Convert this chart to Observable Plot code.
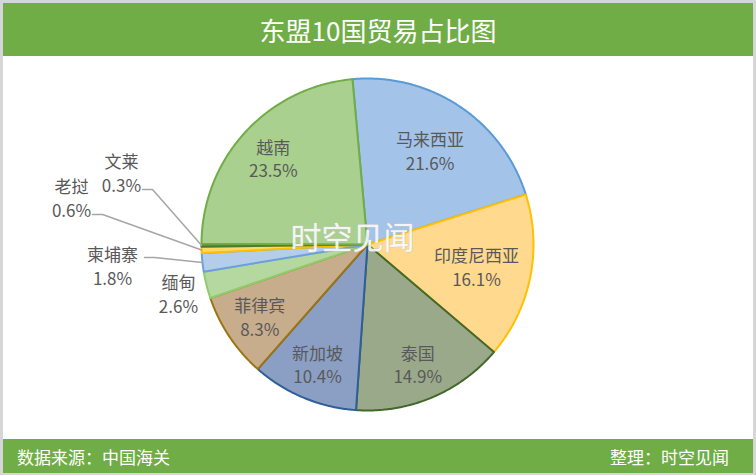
<!DOCTYPE html>
<html>
<head>
<meta charset="utf-8">
<script src="https://cdn.jsdelivr.net/npm/d3@7"></script>
<script src="https://cdn.jsdelivr.net/npm/@observablehq/plot@0.6"></script>
<style>
  html, body { margin: 0; padding: 0; background: #fff; }
  #frame { width: 756px; height: 475px; box-sizing: border-box; background: #d6d6d6; padding: 3px 3px 2px 3px; font-family: "Noto Sans CJK SC", "Noto Sans", sans-serif; }
  #inner { width: 750px; height: 470px; background: #fff; position: relative; }
  #header { height: 53px; background: #70ad47; color: #fff; font-size: 26px; display: flex; align-items: center; justify-content: center; }
  #chart { height: 383px; }
  #chart svg { display: block; }
  #footer { height: 34px; background: #70ad47; color: #fff; font-size: 17px; display: flex; align-items: center; justify-content: space-between; padding: 0 24px 0 14px; box-sizing: border-box; }
</style>
</head>
<body>
<div id="frame"><div id="inner">
  <div id="header">东盟10国贸易占比图</div>
  <div id="chart"></div>
  <div id="footer"><span>数据来源：中国海关</span><span>整理：时空见闻</span></div>
</div></div>
<script>
// ---- data ----
const countries = ["马来西亚", "印度尼西亚", "泰国", "新加坡", "菲律宾", "缅甸", "柬埔寨", "老挝", "文莱", "越南"];
const shares = [21.6, 16.1, 14.9, 10.4, 8.3, 2.6, 1.8, 0.6, 0.3, 23.5];
const fills = ["#a3c3e8", "#ffd98e", "#9aa98a", "#8b9fc4", "#c8ad8c", "#b5d8a0", "#b3cdea", "#ffd965", "#62904a", "#a9d08e"];
const strokes = ["#5b9bd5", "#ffc000", "#43682b", "#2f5f98", "#9c7410", "#8fcc6b", "#6d9fdc", "#ffc000", "#4e7a30", "#70ad47"];
const watermark = "时空见闻";

// ---- layout ----
const W = 750, H = 383, CX = 364, CY = 188, R = 166;
const startDeg = -5.2;
// inside label radial position (fraction of radius); null = outside label
const insideR = [0.68, 0.67, 0.78, 0.78, 0.78, null, null, null, null, 0.77];
// outside label blocks (unit coords relative to center, y up) and leader start/elbow
const outside = {
  "缅甸": {x: -1.139, y: -0.295, leader: null},
  "柬埔寨": {x: -1.536, y: -0.127, leader: [[-1.343, -0.078], [-1.283, -0.078]]},
  "老挝": {x: -1.783, y: 0.283, leader: [[-1.657, 0.181], [-1.596, 0.181]]},
  "文莱": {x: -1.482, y: 0.434, leader: [[-1.355, 0.331], [-1.295, 0.331]]}
};

const pie = d3.pie().sort(null).value(d => d.v)
  .startAngle(startDeg * Math.PI / 180).endAngle(startDeg * Math.PI / 180 + 2 * Math.PI);
const arcs = pie(countries.map((c, i) => ({c, v: shares[i], i})));

const sliceMarks = arcs.map(a => {
  const pts = [{x: 0, y: 0}];
  const n = Math.max(2, Math.ceil((a.endAngle - a.startAngle) / (Math.PI / 360)));
  for (let k = 0; k <= n; k++) {
    const t = a.startAngle + (a.endAngle - a.startAngle) * k / n;
    pts.push({x: Math.sin(t), y: Math.cos(t)});
  }
  return Plot.line(pts, {x: "x", y: "y", fill: fills[a.data.i], stroke: strokes[a.data.i], strokeWidth: 2, strokeLinejoin: "round", curve: "linear-closed"});
});

const labels = [];
const leaders = [];
arcs.forEach(a => {
  const i = a.data.i;
  const mid = (a.startAngle + a.endAngle) / 2;
  const text = countries[i] + "\n" + shares[i].toFixed(1) + "%";
  if (insideR[i] != null) {
    labels.push({x: insideR[i] * Math.sin(mid), y: insideR[i] * Math.cos(mid), text});
  } else {
    const o = outside[countries[i]];
    labels.push({x: o.x, y: o.y, text});
    if (o.leader) {
      leaders.push({id: i, x: o.leader[0][0], y: o.leader[0][1]});
      leaders.push({id: i, x: o.leader[1][0], y: o.leader[1][1]});
      leaders.push({id: i, x: Math.sin(mid), y: Math.cos(mid)});
    }
  }
});

const chart = Plot.plot({
  width: W, height: H,
  margin: 0,
  x: {domain: [-CX / R, (W - CX) / R], axis: null},
  y: {domain: [-(H - CY) / R, CY / R], axis: null},
  style: {fontFamily: "'Noto Sans CJK SC', 'Noto Sans', sans-serif", background: "transparent"},
  marks: [
    ...sliceMarks,
    Plot.text([watermark], {x: () => -0.09, y: () => 0.03, text: d => d, fontSize: 31, fill: "#ffffff", fillOpacity: 0.85, stroke: "#c8c8c8", strokeWidth: 0.8, strokeOpacity: 0.9}),
    Plot.line(leaders, {x: "x", y: "y", z: "id", stroke: "#a6a6a6", strokeWidth: 1.5}),
    Plot.text(labels, {x: "x", y: "y", text: "text", fontSize: 17, fill: "#595959", lineHeight: 1.38, lineAnchor: "middle", textAnchor: "middle"})
  ]
});
document.getElementById("chart").appendChild(chart);
</script>
</body>
</html>
